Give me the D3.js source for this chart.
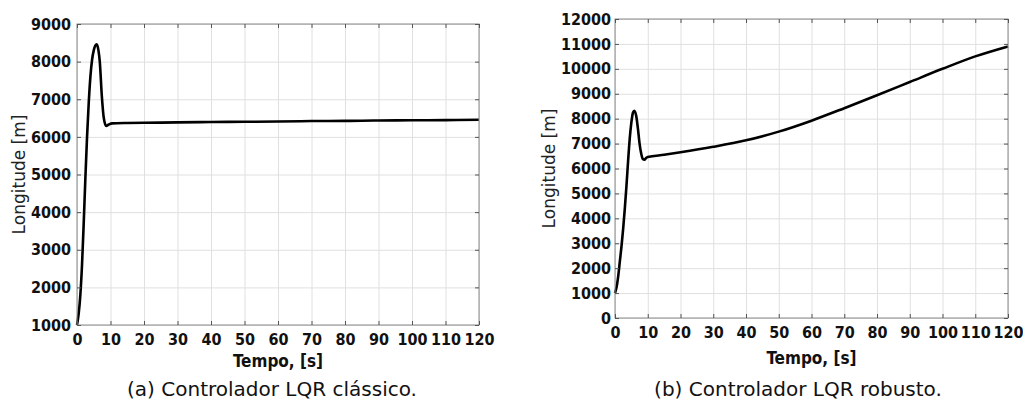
<!DOCTYPE html>
<html>
<head>
<title>Longitude - controlador LQR</title>
<meta charset="utf-8">
<style>
    body { margin : 0; background : white; }
    .grid line { stroke : #e0e0e0; stroke-width : 1px; }
    .grid path { stroke : none; }
    .box { fill : none; stroke : #8a8a8a; stroke-width : 1px; }
    .axis path { stroke : none; }
    .axis line { stroke : #555; stroke-width : 1px; }
    .axis text { font-family : "DejaVu Sans Condensed", "DejaVu Sans", sans-serif; font-weight : bold; font-size : 16px; fill : #111; }
    .curve { fill : none; stroke : #000; stroke-width : 2.6px; stroke-linejoin : round; }
    .ylabel { font-family : "DejaVu Sans", sans-serif; font-size : 17px; fill : #222; }
    .xlabel { font-family : "DejaVu Sans Condensed", "DejaVu Sans", sans-serif; font-weight : bold; font-size : 17px; fill : #111; }
    .caption { font-family : "DejaVu Sans", sans-serif; font-size : 20px; fill : #111; }
</style>
</head>
<body>
<script src="https://cdn.jsdelivr.net/npm/d3@7"></script>
<script>

// time axis (both panels)
var timeTicks = [0, 10, 20, 30, 40, 50, 60, 70, 80, 90, 100, 110, 120];

// (a) classic LQR
var classicTicks = [1000, 2000, 3000, 4000, 5000, 6000, 7000, 8000, 9000];
var classicTime = [0, 0.5, 1.0, 1.5, 2.0, 2.5, 3.0, 3.5, 4.0, 4.5, 5.0, 5.5, 5.9, 6.4, 6.8, 7.4, 8.0, 8.7, 9.5, 10.5, 15, 20, 30, 40, 50, 60, 70, 80, 90, 100, 110, 120];
var classicLength = [1000, 1300, 1800, 2600, 3700, 4900, 6000, 6900, 7600, 8050, 8300, 8430, 8460, 8300, 8000, 7100, 6500, 6290, 6330, 6360, 6370, 6375, 6385, 6395, 6400, 6410, 6420, 6425, 6435, 6440, 6445, 6455];

// (b) robust LQR
var robustTicks = [0, 1000, 2000, 3000, 4000, 5000, 6000, 7000, 8000, 9000, 10000, 11000, 12000];
var robustTime = [0, 0.5, 1, 1.5, 2, 2.5, 3, 3.5, 4, 4.5, 5, 5.5, 5.9, 6.5, 7, 7.5, 8, 8.5, 9, 9.5, 10, 15, 20, 30, 40, 50, 60, 70, 80, 90, 100, 110, 120];
var robustLength = [1000, 1250, 1700, 2300, 2900, 3600, 4400, 5300, 6300, 7200, 7850, 8250, 8320, 8100, 7600, 7000, 6600, 6380, 6350, 6420, 6460, 6550, 6650, 6870, 7130, 7480, 7920, 8420, 8940, 9470, 10000, 10500, 10900];

var SVGwidth = 1023, SVGheight = 413;

var svg = d3.select("body").append("svg")
        .attr("width", SVGwidth)
        .attr("height", SVGheight);

var panels = [
    {x0: 77, x1: 479, y0: 24, y1: 325, ticks: classicTicks, t: classicTime, v: classicLength,
     pad: 6, ylabX: 25, xlabY: 367, capX: 272, caption: "(a) Controlador LQR clássico."},
    {x0: 615, x1: 1008, y0: 19, y1: 318, ticks: robustTicks, t: robustTime, v: robustLength,
     pad: 4, ylabX: 555, xlabY: 364, capX: 798, caption: "(b) Controlador LQR robusto."}
];

panels.forEach(drawPanel);

function drawPanel(p) {
    var x = d3.scaleLinear().domain([0, 120]).range([p.x0, p.x1]);
    var y = d3.scaleLinear().domain([p.ticks[0], p.ticks[p.ticks.length - 1]]).range([p.y1, p.y0]);
    var w = p.x1 - p.x0, h = p.y1 - p.y0;
    var fmt = d3.format("d");

    // grid
    svg.append("g").attr("class", "grid")
        .attr("transform", "translate(0," + p.y1 + ")")
        .call(d3.axisBottom(x).tickValues(timeTicks).tickSize(-h).tickFormat(""));
    svg.append("g").attr("class", "grid")
        .attr("transform", "translate(" + p.x0 + ",0)")
        .call(d3.axisLeft(y).tickValues(p.ticks).tickSize(-w).tickFormat(""));

    // curve
    var line = d3.line()
        .x(function(d, i) { return x(p.t[i]); })
        .y(function(d) { return y(d); })
        .curve(d3.curveMonotoneX);
    svg.append("path")
        .attr("class", "curve")
        .attr("d", line(p.v));

    svg.append("rect").attr("class", "box")
        .attr("x", p.x0).attr("y", p.y0).attr("width", w).attr("height", h);

    // inward ticks on all sides
    svg.append("g").attr("class", "axis")
        .attr("transform", "translate(0," + p.y1 + ")")
        .call(d3.axisBottom(x).tickValues(timeTicks).tickSize(-4).tickPadding(5).tickFormat(fmt))
        .selectAll("text").attr("dy", "0.95em");
    svg.append("g").attr("class", "axis")
        .attr("transform", "translate(0," + p.y0 + ")")
        .call(d3.axisTop(x).tickValues(timeTicks).tickSize(-4).tickFormat(""));
    svg.append("g").attr("class", "axis")
        .attr("transform", "translate(" + p.x0 + ",0)")
        .call(d3.axisLeft(y).tickValues(p.ticks).tickSize(-4).tickPadding(p.pad).tickFormat(fmt));
    svg.append("g").attr("class", "axis")
        .attr("transform", "translate(" + p.x1 + ",0)")
        .call(d3.axisRight(y).tickValues(p.ticks).tickSize(-4).tickFormat(""));

    // labels
    svg.append("text").attr("class", "ylabel")
        .attr("transform", "translate(" + p.ylabX + "," + (p.y0 + p.y1) / 2 + ") rotate(-90)")
        .attr("text-anchor", "middle")
        .text("Longitude [m]");
    svg.append("text").attr("class", "xlabel")
        .attr("x", (p.x0 + p.x1) / 2).attr("y", p.xlabY)
        .attr("text-anchor", "middle")
        .text("Tempo, [s]");
    svg.append("text").attr("class", "caption")
        .attr("x", p.capX).attr("y", 396)
        .attr("text-anchor", "middle")
        .text(p.caption);
}

</script>
</body>
</html>
